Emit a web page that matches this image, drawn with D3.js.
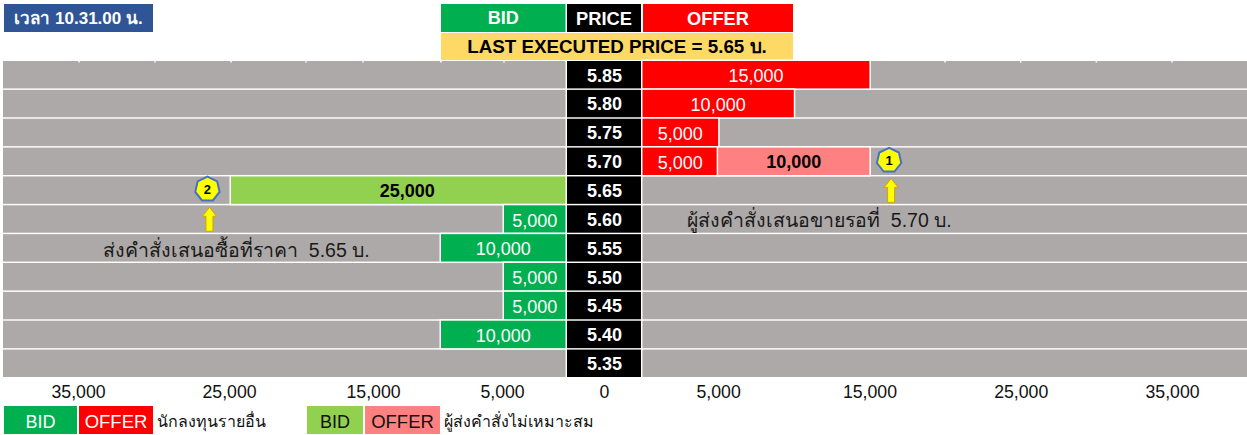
<!DOCTYPE html>
<html>
<head>
<meta charset="utf-8">
<script src="https://cdnjs.cloudflare.com/ajax/libs/d3/7.8.5/d3.min.js"></script>
<style>
    html, body { margin: 0; padding: 0; background: #fff; }
    svg { display: block; font-family: "Liberation Sans", Arial, "Noto Sans", sans-serif; }
</style>
</head>
<body>
<svg width="1247" height="435"></svg>
<script>
const prices = ["5.85", "5.80", "5.75", "5.70", "5.65", "5.60", "5.55", "5.50", "5.45", "5.40", "5.35"]
const bidOthers = [0, 0, 0, 0, 0, 5000, 10000, 5000, 5000, 10000, 0]
const bidImproper = [0, 0, 0, 0, 25000, 0, 0, 0, 0, 0, 0]
const offerOthers = [15000, 10000, 5000, 5000, 0, 0, 0, 0, 0, 0, 0]
const offerImproper = [0, 0, 0, 10000, 0, 0, 0, 0, 0, 0, 0]

const axisTicks = [5000, 15000, 25000, 35000]
const gridTicks = [5000, 10000, 15000, 20000, 25000, 30000, 35000]

const svg = d3.select("svg")

const GREEN = "#00b050", RED = "#ff0000", LIGHT_GREEN = "#92d050", PINK = "#ff8080"
const GREY = "#ada9a8", YELLOW = "#ffd966", BLUE = "#2f5597"

const y = d3.scaleBand().domain(prices).range([61, 377]).paddingInner(0.05)

// the left half of the original is not evenly spaced, so it is piecewise
const xBid = d3.scaleLinear()
    .domain([0, 5000, 10000, 15000, 20000, 25000, 30000, 35000])
    .range([565.5, 504, 441, 363, 306, 231, 155, 79])
const xOffer = d3.scaleLinear().domain([0, 35000]).range([642.5, 1172])

const xBidLabels = d3.scaleLinear()
    .domain([0, 5000, 15000, 25000, 35000])
    .range([604, 502, 373, 229, 78])

function box(x, yPos, w, h, fill, label, color, size, weight, dy = 0) {
    svg.append("rect").attr("x", x).attr("y", yPos).attr("width", w).attr("height", h).attr("fill", fill)
    svg.append("text")
        .attr("x", x + w / 2).attr("y", yPos + h / 2 + size * 0.36 + dy)
        .attr("text-anchor", "middle")
        .attr("fill", color)
        .style("font-size", size + "px")
        .style("font-weight", weight)
        .text(label)
}

// header
box(4, 4, 149, 28, BLUE, "เวลา 10.31.00 น.", "#fff", 17, "bold")
box(441, 4, 124.5, 28, GREEN, "BID", "#fff", 18, "bold")
box(567, 4, 74, 28, "#000", "PRICE", "#fff", 18.3, "bold")
box(643, 4, 150, 28, RED, "OFFER", "#fff", 18.3, "bold")
box(441, 33, 352, 27, YELLOW, "LAST EXECUTED PRICE = 5.65 บ.", "#000", 18.8, "bold")

// grey rows
svg.append("g").selectAll("rect").data(prices).enter().append("rect")
    .attr("x", 3).attr("y", d => y(d))
    .attr("width", 562.5).attr("height", y.bandwidth()).attr("fill", GREY)
svg.append("g").selectAll("rect").data(prices).enter().append("rect")
    .attr("x", 642.5).attr("y", d => y(d))
    .attr("width", 604.5).attr("height", y.bandwidth()).attr("fill", GREY)

// small white nicks along the top, what is left of the gridlines
svg.append("g").attr("stroke", "#fff").attr("stroke-width", 1.5)
    .selectAll("line")
    .data(gridTicks.map(xBid).concat(gridTicks.map(xOffer)))
    .enter().append("line")
    .attr("x1", d => d).attr("x2", d => d)
    .attr("y1", 60).attr("y2", 62.5)

// price column
svg.append("g").selectAll("rect").data(prices).enter().append("rect")
    .attr("x", 567).attr("y", d => y(d))
    .attr("width", 74).attr("height", y.bandwidth()).attr("fill", "#000")
svg.append("g").selectAll("text").data(prices).enter().append("text")
    .attr("x", 604.5).attr("y", d => y(d) + y.bandwidth() / 2 + 6.8)
    .attr("text-anchor", "middle").attr("fill", "#fff")
    .style("font-size", "18px").style("font-weight", "bold")
    .text(d => d)

// bars
const segments = []
prices.forEach((p, i) => {
    if (bidOthers[i]) segments.push({ p, x0: xBid(bidOthers[i]), x1: xBid(0), v: bidOthers[i], fill: GREEN, text: "#fff", weight: "normal", dx: 0 })
    // this label sits right of the bar's middle in the original
    if (bidImproper[i]) segments.push({ p, x0: xBid(bidImproper[i]), x1: xBid(0), v: bidImproper[i], fill: LIGHT_GREEN, text: "#000", weight: "bold", dx: 9 })
    if (offerOthers[i]) segments.push({ p, x0: xOffer(0), x1: xOffer(offerOthers[i]), v: offerOthers[i], fill: RED, text: "#fff", weight: "normal", dx: 0 })
    if (offerImproper[i]) segments.push({ p, x0: xOffer(offerOthers[i]), x1: xOffer(offerOthers[i] + offerImproper[i]), v: offerImproper[i], fill: PINK, text: "#000", weight: "bold", dx: 0 })
})

const bars = svg.append("g").selectAll("g").data(segments).enter().append("g")
bars.append("rect")
    .attr("x", d => d.x0).attr("y", d => y(d.p))
    .attr("width", d => d.x1 - d.x0).attr("height", y.bandwidth())
    .attr("fill", d => d.fill)
    .attr("stroke", "#fff").attr("stroke-width", 3).style("paint-order", "stroke")
bars.append("text")
    .attr("x", d => (d.x0 + d.x1) / 2 + d.dx)
    .attr("y", d => y(d.p) + y.bandwidth() / 2 + (d.weight == "bold" ? 6.5 : 7.5))
    .attr("text-anchor", "middle").attr("fill", d => d.text)
    .style("font-size", "18px")
    .style("font-weight", d => d.weight)
    .text(d => d3.format(",")(d.v))

// numbered badge with the arrow under it
function marker(cx, price, nextPrice, label) {
    const cy = y(price) + y.bandwidth() / 2
    const points = d3.range(7).map(i => {
        const a = -Math.PI / 2 + i * 2 * Math.PI / 7
        return [cx + 12.5 * Math.cos(a), cy - 1 + 12.5 * Math.sin(a)]
    })
    svg.append("polygon")
        .attr("points", points.join(" "))
        .attr("fill", "#ffff00").attr("stroke", "#4472c4").attr("stroke-width", 2)
    svg.append("text")
        .attr("x", cx).attr("y", cy + 4)
        .attr("text-anchor", "middle").style("font-size", "13px").style("font-weight", "bold")
        .text(label)

    const top = y(nextPrice) + 2
    const ax = cx + 2
    svg.append("path")
        .attr("d", `M${ax},${top} l7,9 h-3.5 v15 h-7 v-15 h-3.5 z`)
        .attr("fill", "#ffff00").attr("stroke", "#d6a300").attr("stroke-width", 1)
}
marker(xOffer(16300), "5.70", "5.65", "1")
marker(xBid(26550), "5.65", "5.60", "2")

// notes
svg.append("text").attr("x", 103).attr("y", y("5.55") + 22.5)
    .attr("fill", "#1a1a1a").style("font-size", "19.5px")
    .text("ส่งคำสั่งเสนอซื้อที่ราคา\u00a0 5.65 บ.")
svg.append("text").attr("x", 687).attr("y", y("5.60") + 21.5)
    .attr("fill", "#1a1a1a").style("font-size", "19.5px")
    .text("ผู้ส่งคำสั่งเสนอขายรอที่\u00a0 5.70 บ.")

// axes
const axisY = 378
const leftAxis = d3.axisBottom(xBidLabels).tickValues([0].concat(axisTicks)).tickSize(0).tickPadding(7).tickFormat(d3.format(","))
const rightAxis = d3.axisBottom(xOffer).tickValues(axisTicks).tickSize(0).tickPadding(7).tickFormat(d3.format(","))
svg.append("g").attr("transform", `translate(0,${axisY})`).call(leftAxis)
    .call(g => g.select(".domain").remove())
svg.append("g").attr("transform", `translate(0,${axisY})`).call(rightAxis)
    .call(g => g.select(".domain").remove())
svg.selectAll(".tick text")
    .style("font-family", '"Liberation Sans", Arial, sans-serif')
    .style("font-size", "17.7px").attr("fill", "#111")

// legend
box(4, 406, 73, 28, GREEN, "BID", "#fff", 18, "normal", 1.5)
box(79, 406, 74, 28, RED, "OFFER", "#fff", 18.5, "normal", 1.5)
svg.append("text").attr("x", 157).attr("y", 427).style("font-size", "16px").attr("fill", "#111").text("นักลงทุนรายอื่น")
box(307, 406, 56, 28, LIGHT_GREEN, "BID", "#111", 18, "normal", 1.5)
box(365, 406, 75, 28, PINK, "OFFER", "#111", 18.5, "normal", 1.5)
svg.append("text").attr("x", 444).attr("y", 427).style("font-size", "16px").attr("fill", "#111").text("ผู้ส่งคำสั่งไม่เหมาะสม")
</script>
</body>
</html>
